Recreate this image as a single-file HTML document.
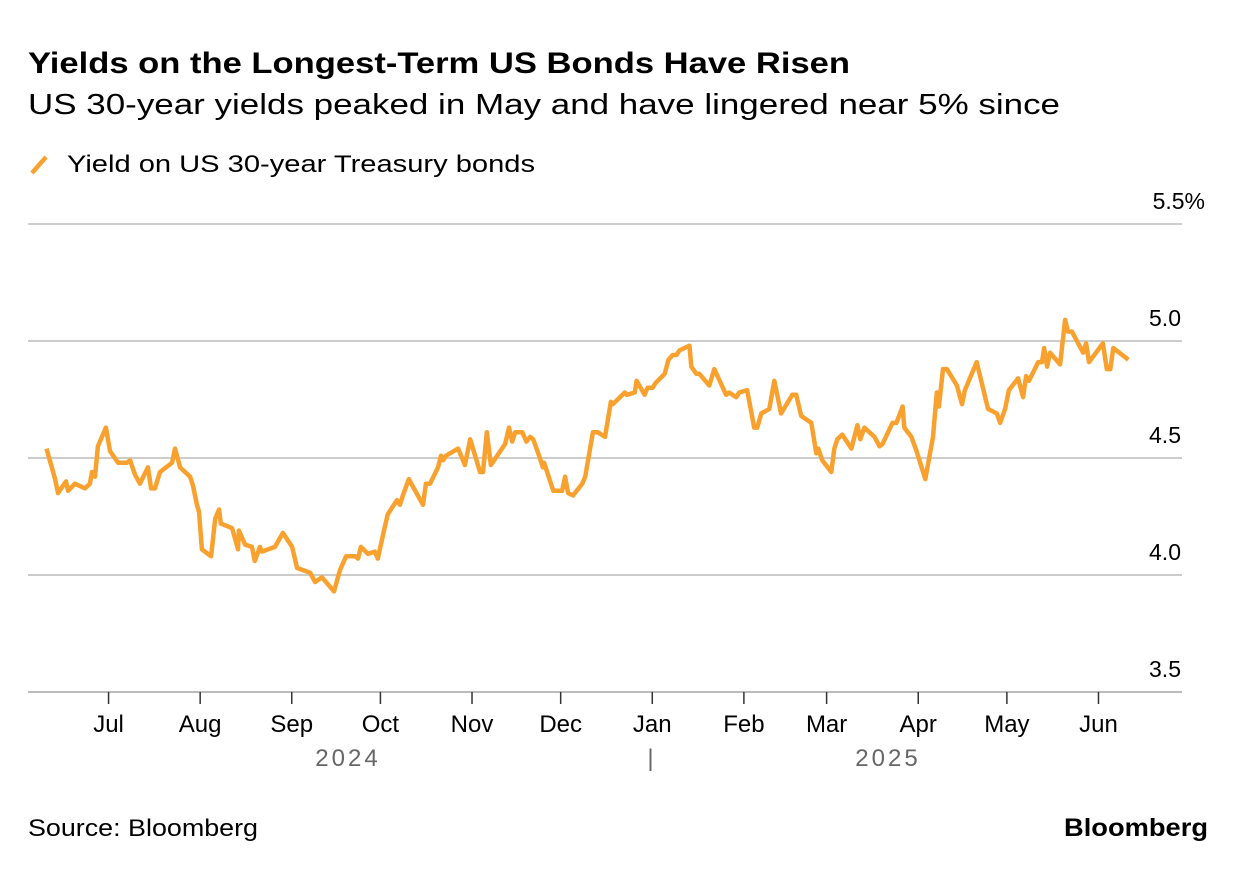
<!DOCTYPE html>
<html><head><meta charset="utf-8"><style>
body{margin:0;background:#fff;font-family:"Liberation Sans",sans-serif;}
svg text{font-family:"Liberation Sans",sans-serif;}
</style></head><body>
<svg id="chart" width="1237" height="868" xmlns="http://www.w3.org/2000/svg">
<text x="28" y="73" font-size="30" font-weight="bold" fill="#000" textLength="822" lengthAdjust="spacingAndGlyphs">Yields on the Longest-Term US Bonds Have Risen</text>
<text x="28" y="114" font-size="29" fill="#000" textLength="1032" lengthAdjust="spacingAndGlyphs">US 30-year yields peaked in May and have lingered near 5% since</text>
<g>
<line x1="32" y1="173" x2="46" y2="157" stroke="#f9a12e" stroke-width="4.5"/>
<text x="67" y="172" font-size="24" fill="#000" textLength="468" lengthAdjust="spacingAndGlyphs">Yield on US 30-year Treasury bonds</text>
</g>
<g id="grid"></g><g id="xaxis"></g>
<path id="line" fill="none" stroke="#f9a12e" stroke-width="4.5" stroke-linejoin="round"/>
<text x="28" y="836" font-size="24" fill="#000" textLength="230" lengthAdjust="spacingAndGlyphs">Source: Bloomberg</text>
<text x="1064" y="836" font-size="25" font-weight="bold" fill="#000" textLength="144" lengthAdjust="spacingAndGlyphs">Bloomberg</text>
</svg>
<script>
const days=[0,2.9,3.9,6.6,7.3,9.6,13.0,14.7,15.4,16.4,17.4,20.1,21.5,24.2,27.2,28.3,29.9,31.6,34.3,35.4,36.7,38.4,42.5,43.5,45.2,48.6,49.6,50.9,51.6,52.6,55.7,57.1,58.4,59.0,62.8,64.8,65.1,67.2,69.5,70.5,72.2,72.9,77.3,80.0,83.1,84.8,89.2,90.9,93.2,97.3,99.3,101.4,104.4,105.4,106.4,108.8,111.1,112.1,114.2,115.5,118.6,119.6,120.6,122.6,127.4,128.4,129.8,132.5,133.5,134.2,135.2,139.3,140.3,141.6,143.4,146.7,147.7,149.0,150.4,155.2,156.5,157.6,158.6,161.0,162.4,163.7,164.7,166.7,168.0,168.4,171.5,174.5,175.5,176.5,178.2,181.3,182.3,184.9,186.6,189.0,191.0,191.6,193.3,195.7,196.3,199.1,199.7,202.4,203.4,205.1,206.1,209.2,210.5,211.9,213.2,214.2,217.6,218.2,219.9,220.9,224.3,226.0,230.0,231.0,233.4,234.4,237.1,239.5,240.5,241.9,244.6,246.3,248.6,252.4,253.7,255.4,258.8,260.5,261.2,262.5,265.6,266.6,267.6,269.3,272.4,274.4,275.4,276.8,280.2,281.9,282.9,286.3,287.6,289.7,290.3,292.7,294.4,295.4,297.4,300.0,301.3,302.0,303.4,304.7,308.1,309.8,310.8,314.8,318.6,321.6,322.7,324.4,325.7,328.8,330.5,331.5,332.5,335.6,336.9,337.6,338.6,339.6,343.0,344.7,345.7,347.0,350.8,351.8,352.8,357.5,358.8,360.0,361.0,366.1];
const yields=[4.54,4.41,4.35,4.40,4.36,4.39,4.37,4.39,4.44,4.42,4.55,4.63,4.53,4.48,4.48,4.49,4.43,4.39,4.46,4.37,4.37,4.44,4.48,4.54,4.46,4.42,4.38,4.30,4.27,4.11,4.08,4.24,4.28,4.22,4.20,4.11,4.19,4.13,4.12,4.06,4.12,4.10,4.12,4.18,4.12,4.03,4.01,3.97,3.99,3.93,4.02,4.08,4.08,4.07,4.12,4.09,4.10,4.07,4.19,4.26,4.32,4.30,4.34,4.41,4.30,4.39,4.39,4.46,4.51,4.49,4.51,4.54,4.51,4.47,4.58,4.44,4.44,4.61,4.47,4.56,4.63,4.57,4.61,4.61,4.57,4.59,4.58,4.51,4.46,4.48,4.36,4.36,4.42,4.35,4.34,4.39,4.42,4.61,4.61,4.59,4.74,4.73,4.75,4.78,4.77,4.78,4.83,4.77,4.80,4.80,4.82,4.86,4.92,4.94,4.94,4.96,4.98,4.89,4.86,4.86,4.81,4.88,4.77,4.78,4.76,4.78,4.79,4.63,4.63,4.69,4.71,4.83,4.69,4.77,4.77,4.68,4.65,4.52,4.54,4.49,4.44,4.54,4.58,4.60,4.54,4.64,4.58,4.63,4.59,4.55,4.56,4.65,4.65,4.72,4.63,4.59,4.53,4.49,4.41,4.59,4.78,4.72,4.88,4.88,4.81,4.73,4.79,4.91,4.71,4.69,4.65,4.71,4.79,4.84,4.76,4.85,4.83,4.91,4.91,4.97,4.89,4.95,4.90,5.09,5.04,5.04,4.95,4.99,4.91,4.99,4.88,4.88,4.97,4.92];
const yTicks=[3.5,4.0,4.5,5.0,5.5];
const yTickLabels=["3.5","4.0","4.5","5.0","5.5%"];
const monthLabels=["Jul","Aug","Sep","Oct","Nov","Dec","Jan","Feb","Mar","Apr","May","Jun"];
const monthDays=[21,52,83,113,144,174,205,236,264,295,325,356];
const NS="http://www.w3.org/2000/svg";
const xs=d=>46.5+d*2.955;
const ys=v=>341+(5.0-v)*234;
const grid=document.getElementById('grid');
yTicks.forEach((t,i)=>{
 const l=document.createElementNS(NS,'line');
 l.setAttribute('x1',28);l.setAttribute('x2',1182);l.setAttribute('y1',ys(t));l.setAttribute('y2',ys(t));
 l.setAttribute('stroke',t===3.5?'#bbb':'#ccc');l.setAttribute('stroke-width',2);
 
 
 grid.appendChild(l);
 const tx=document.createElementNS(NS,'text');
 tx.setAttribute('x',1181);tx.setAttribute('y',ys(t)-15);tx.setAttribute('text-anchor','end');
 tx.setAttribute('font-size','23');tx.textContent=yTickLabels[i];
 if(i===4){tx.setAttribute('x',1205);}
 
 
 grid.appendChild(tx);
});
const xa=document.getElementById('xaxis');
monthDays.forEach((d,i)=>{
 const x=xs(d);
 const l=document.createElementNS(NS,'line');
 l.setAttribute('x1',x);l.setAttribute('x2',x);l.setAttribute('y1',692);l.setAttribute('y2',704);
 l.setAttribute('stroke','#333');l.setAttribute('stroke-width',1.5);
 
 
 xa.appendChild(l);
 const t=document.createElementNS(NS,'text');
 t.setAttribute('x',x);t.setAttribute('y',732);t.setAttribute('text-anchor','middle');t.setAttribute('font-size','24');
 t.textContent=monthLabels[i];
 
 
 xa.appendChild(t);
});
[["2024",348],["|",652],["2025",888]].forEach(([s,x])=>{
 const t=document.createElementNS(NS,'text');
 t.setAttribute('x',x);t.setAttribute('y',766);t.setAttribute('text-anchor','middle');t.setAttribute('font-size','24');
 t.setAttribute('fill','#666');t.setAttribute('letter-spacing','3');t.textContent=s;
 
 
 xa.appendChild(t);
});
document.getElementById('line').setAttribute('d',days.map((d,i)=>(i?'L':'M')+xs(d).toFixed(1)+','+ys(yields[i]).toFixed(1)).join(''));
</script>
</body></html>
